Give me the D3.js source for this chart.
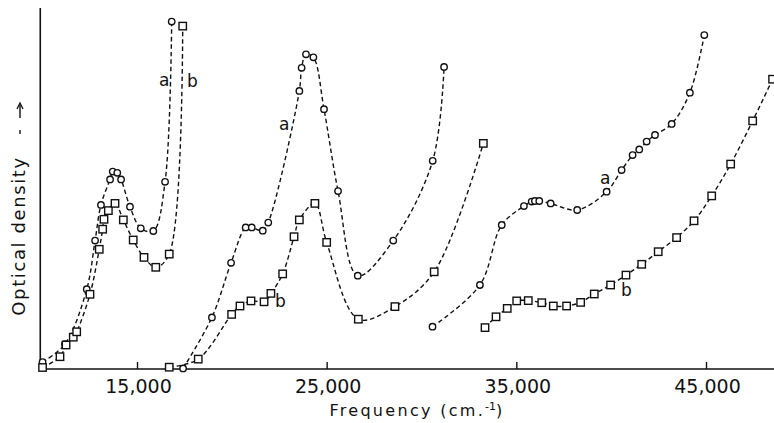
<!DOCTYPE html>
<html>
<head>
<meta charset="utf-8">
<script src="https://cdn.jsdelivr.net/npm/d3@7"></script>
<style>
    html, body { margin: 0; padding: 0; background: #fff; }
    svg text { font-family: "DejaVu Sans", sans-serif; fill: #111; }
</style>
</head>
<body>
<div class="chart"></div>
<script>
/* ---------------------------------------------------- +/

## Optical density spectrum ##

Curves a (circles) and b (squares), three runs each

/+ ---------------------------------------------------- */

// frequency in cm-1, optical density in arbitrary units
var aRun1Freq = [10020, 11200, 12350, 12790, 13100, 13580, 13720, 13960, 14160, 14630, 15200, 15860, 16480, 16830];
var aRun1Od   = [0.023, 0.083, 0.266, 0.428, 0.547, 0.632, 0.658, 0.654, 0.632, 0.541, 0.469, 0.460, 0.624, 1.158];

var bRun1Freq = [10020, 10940, 11260, 11640, 11820, 12520, 13010, 13190, 13260, 13490, 13840, 14280, 14800, 15370, 15990, 16700, 17410];
var bRun1Od   = [0.005, 0.041, 0.080, 0.106, 0.124, 0.249, 0.399, 0.466, 0.499, 0.528, 0.552, 0.497, 0.430, 0.372, 0.339, 0.383, 1.143];

var aRun2Freq = [17430, 18950, 19960, 20730, 21050, 21630, 21920, 23560, 23680, 23910, 24300, 24860, 25600, 26640, 28510, 30590, 31190];
var aRun2Od   = [0.002, 0.172, 0.354, 0.472, 0.472, 0.461, 0.488, 0.927, 1.004, 1.049, 1.039, 0.866, 0.593, 0.311, 0.428, 0.694, 1.007];

var bRun2Freq = [16700, 18230, 19990, 20430, 21010, 21700, 22060, 22680, 23280, 23560, 24380, 25000, 26670, 28600, 30670, 33260];
var bRun2Od   = [0.006, 0.033, 0.182, 0.210, 0.227, 0.224, 0.252, 0.317, 0.441, 0.497, 0.552, 0.422, 0.166, 0.208, 0.324, 0.752];

var aRun3Freq = [30580, 33080, 34230, 35400, 35810, 35980, 36210, 36810, 38210, 39760, 40550, 41130, 41480, 41870, 42310, 43190, 44150, 44910];
var aRun3Od   = [0.141, 0.280, 0.480, 0.543, 0.558, 0.560, 0.560, 0.552, 0.530, 0.591, 0.663, 0.713, 0.732, 0.758, 0.780, 0.817, 0.921, 1.113];

var bRun3Freq = [33350, 33930, 34520, 35020, 35630, 36340, 36950, 37650, 38390, 39110, 39970, 40780, 41610, 42480, 43450, 44370, 45300, 46300, 47460, 48510];
var bRun3Od   = [0.138, 0.174, 0.202, 0.227, 0.228, 0.221, 0.210, 0.210, 0.222, 0.250, 0.280, 0.313, 0.349, 0.391, 0.438, 0.494, 0.577, 0.683, 0.827, 0.966];

var tickValues = [15000, 25000, 35000, 45000];
var tickLabels = ["15,000", "25,000", "35,000", "45,000"];

// curve letters, anchored in data units
var labelText = ["a", "b", "a", "b", "a", "b"];
var labelFreq = [16160, 17640, 22490, 22280, 39410, 40520];
var labelOd   = [0.943, 0.940, 0.797, 0.207, 0.617, 0.243];

/**
 * Setup drawing area
 */
var width = 774;
var height = 423;
var svg = d3.select(".chart").append("svg")
    .attr("width", width)
    .attr("height", height);

var x = d3.scaleLinear()
    .domain([15000, 45000])
    .range([137, 706]);

var y = d3.scaleLinear()
    .domain([0, 1.2])
    .range([369, 9]);

var x0 = x(9900);

/**
 * Axes
 */
var xAxis = d3.axisBottom(x)
    .tickValues(tickValues)
    .tickSize(-7)
    .tickSizeOuter(0)
    .tickFormat(function (d, i) { return tickLabels[i]; });

var gx = svg.append("g")
    .attr("transform", "translate(0," + y(0) + ")")
    .call(xAxis);
gx.select(".domain").remove();
gx.selectAll(".tick line").attr("stroke", "#111").attr("stroke-width", 1.4);
gx.selectAll(".tick text")
    .attr("y", 11)
    .attr("dx", 1)
    .style("font-size", "19px")
    .style("font-family", "DejaVu Sans, sans-serif")
    .attr("fill", "#111");

// baseline
svg.append("line")
    .attr("x1", x0).attr("x2", width)
    .attr("y1", y(0)).attr("y2", y(0))
    .attr("stroke", "#111")
    .attr("stroke-width", 1.6);

// vertical axis, no ticks
svg.append("line")
    .attr("x1", x0).attr("x2", x0)
    .attr("y1", 8).attr("y2", y(0))
    .attr("stroke", "#111")
    .attr("stroke-width", 1.6);

svg.append("text")
    .attr("x", 417)
    .attr("y", 416)
    .attr("text-anchor", "middle")
    .style("font-size", "16px")
    .style("letter-spacing", "2.3px")
    .text("Frequency (cm.")
    .append("tspan")
        .attr("dy", -6)
        .style("font-size", "11px")
        .style("letter-spacing", "0px")
        .text("-1")
    .select(function () { return this.parentNode; })
    .append("tspan")
        .attr("dy", 6)
        .text(")");

svg.append("text")
    .attr("transform", "translate(25,236) rotate(-90)")
    .attr("text-anchor", "middle")
    .style("font-size", "18px")
    .style("letter-spacing", "1.6px")
    .text("Optical density");

// little dashed arrow after the label
svg.append("line")
    .attr("x1", 20).attr("x2", 20)
    .attr("y1", 134).attr("y2", 130)
    .attr("stroke", "#111").attr("stroke-width", 1.4);
svg.append("line")
    .attr("x1", 20).attr("x2", 20)
    .attr("y1", 118).attr("y2", 105)
    .attr("stroke", "#111").attr("stroke-width", 1.4);
svg.append("path")
    .attr("d", "M17,109 L20,103 L23,109")
    .attr("fill", "none")
    .attr("stroke", "#111").attr("stroke-width", 1.3);

/**
 * Curves
 */
var line = d3.line()
    .x(function (d) { return x(d[0]); })
    .y(function (d) { return y(d[1]); })
    .curve(d3.curveCatmullRom.alpha(0.5));

var runs = [
    { freq: aRun1Freq, od: aRun1Od, mark: "circle" },
    { freq: bRun1Freq, od: bRun1Od, mark: "square" },
    { freq: aRun2Freq, od: aRun2Od, mark: "circle" },
    { freq: bRun2Freq, od: bRun2Od, mark: "square" },
    { freq: aRun3Freq, od: aRun3Od, mark: "circle" },
    { freq: bRun3Freq, od: bRun3Od, mark: "square" }
];

_each(runs, function (run) {
    var pts = d3.zip(run.freq, run.od);
    svg.append("path")
        .datum(pts)
        .attr("d", line)
        .attr("fill", "none")
        .attr("stroke", "#111")
        .attr("stroke-width", 1.4)
        .attr("stroke-dasharray", "4.5,3");
});

// markers go on top so the dashes stop at them
_each(runs, function (run) {
    var pts = d3.zip(run.freq, run.od);
    if (run.mark === "circle") {
        svg.selectAll(null).data(pts).enter().append("circle")
            .attr("cx", function (d) { return x(d[0]); })
            .attr("cy", function (d) { return y(d[1]); })
            .attr("r", 3.2)
            .attr("fill", "#fff")
            .attr("stroke", "#111")
            .attr("stroke-width", 1.4);
    } else {
        svg.selectAll(null).data(pts).enter().append("rect")
            .attr("x", function (d) { return x(d[0]) - 3.7; })
            .attr("y", function (d) { return y(d[1]) - 3.7; })
            .attr("width", 7.4)
            .attr("height", 7.4)
            .attr("fill", "#fff")
            .attr("stroke", "#111")
            .attr("stroke-width", 1.4);
    }
});

svg.selectAll(null).data(labelText).enter().append("text")
    .attr("x", function (d, i) { return x(labelFreq[i]); })
    .attr("y", function (d, i) { return y(labelOd[i]); })
    .style("font-size", "17px")
    .text(function (d) { return d; });

function _each(list, fn) {
    for (var i = 0; i < list.length; i++) fn(list[i], i);
}
</script>
</body>
</html>
